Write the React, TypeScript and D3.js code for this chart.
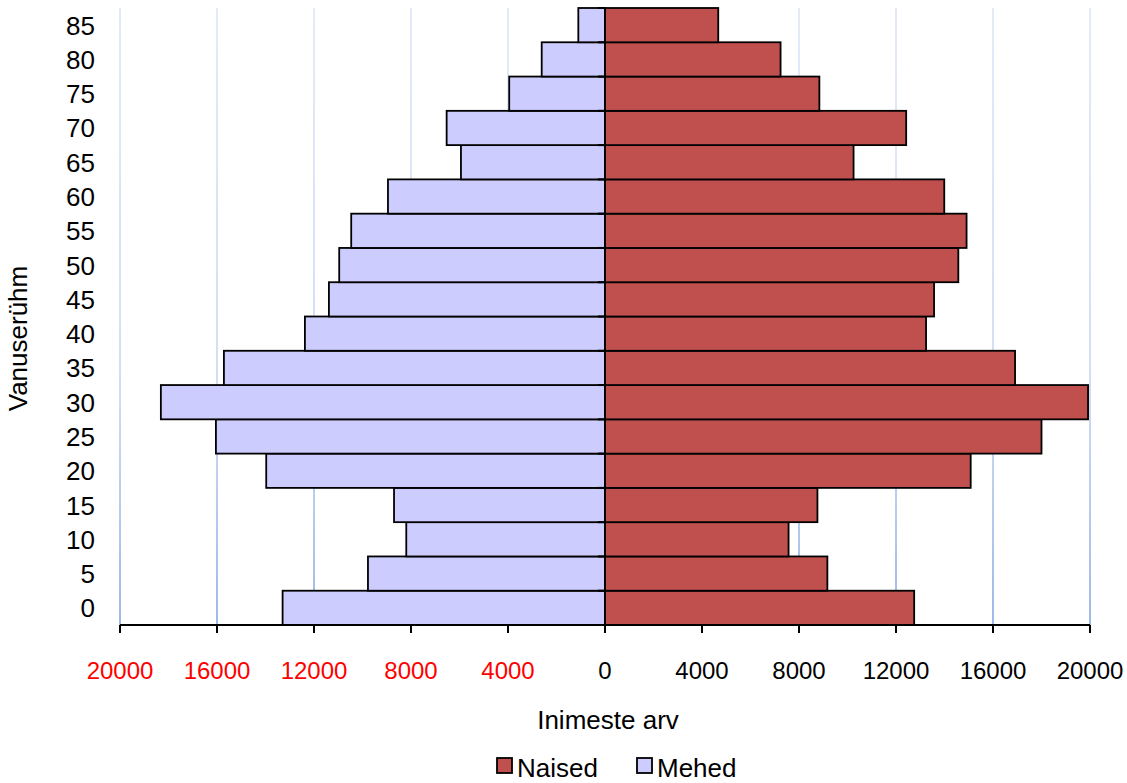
import React from "react";
import * as d3 from "d3";

const ages = [0, 5, 10, 15, 20, 25, 30, 35, 40, 45, 50, 55, 60, 65, 70, 75, 80, 85];
const naised = [12750, 9170, 7570, 8760, 15080, 18000, 19920, 16910, 13240, 13570, 14570, 14910, 13990, 10250, 12420, 8840, 7240, 4670];
const mehed = [13295, 9775, 8195, 8700, 13970, 16045, 18315, 15715, 12375, 11385, 10960, 10465, 8950, 5940, 6530, 3950, 2610, 1100];
const xTicks = [-20000, -16000, -12000, -8000, -4000, 0, 4000, 8000, 12000, 16000, 20000];
const legendItems = [
  { label: "Naised", color: "#c0504d" },
  { label: "Mehed", color: "#ccccff" },
];

const W = 1127;
const H = 783;
const top = 8;
const bottom = 625;
const font = "'Liberation Sans', Arial, sans-serif";
const fs = 26;
const fsX = 24;

export default function App() {
  const x = d3.scaleLinear().domain([-20000, 20000]).range([120, 1090]);
  const y = d3
    .scaleBand<number>()
    .domain([...ages].reverse())
    .range([top, bottom])
    .padding(0);
  const bw = y.bandwidth();
  const x0 = x(0);

  return (
    <svg
      width={W}
      height={H}
      style={{ position: "absolute", left: 0, top: 0, background: "#fff" }}
      fontFamily={font}
    >
      <defs>
        <linearGradient id="gridGrad" gradientUnits="userSpaceOnUse" x1="0" y1={top} x2="0" y2={bottom}>
          <stop offset="0" stopColor="#e4eaf8" />
          <stop offset="0.6" stopColor="#d3def4" />
          <stop offset="1" stopColor="#9db9e8" />
        </linearGradient>
      </defs>
      {/* gridlines */}
      {xTicks.map((t) => (
        <line key={"g" + t} x1={x(t)} x2={x(t)} y1={top} y2={bottom} stroke="url(#gridGrad)" strokeWidth={2} />
      ))}
      {/* male bars */}
      {ages.map((a, i) => (
        <rect
          key={"m" + a}
          x={x(-mehed[i])}
          y={y(a)!}
          width={x0 - x(-mehed[i])}
          height={bw}
          fill="#ccccff"
          stroke="#000"
          strokeWidth={1.8}
        />
      ))}
      {/* female bars */}
      {ages.map((a, i) => (
        <rect
          key={"f" + a}
          x={x0}
          y={y(a)!}
          width={x(naised[i]) - x0}
          height={bw}
          fill="#c0504d"
          stroke="#000"
          strokeWidth={1.8}
        />
      ))}
      {/* y axis at zero with ticks */}
      <line x1={x0} x2={x0} y1={top} y2={bottom} stroke="#000" strokeWidth={2} />
      {[...ages.map((a) => y(a)!), bottom].map((yy, i) => (
        <line key={"yt" + i} x1={x0 - 7} x2={x0} y1={yy} y2={yy} stroke="#000" strokeWidth={2} />
      ))}
      {/* x axis */}
      <line x1={x(-20000)} x2={x(20000)} y1={bottom} y2={bottom} stroke="#000" strokeWidth={2} />
      {xTicks.map((t) => (
        <g key={"xt" + t}>
          <line x1={x(t)} x2={x(t)} y1={bottom} y2={bottom + 8} stroke="#000" strokeWidth={2} />
          <text
            x={x(t)}
            y={679}
            textAnchor="middle"
            fontSize={fsX}
            fill={t < 0 ? "#ff0000" : "#000"}
          >
            {Math.abs(t)}
          </text>
        </g>
      ))}
      {/* y tick labels */}
      {ages.map((a) => (
        <text key={"yl" + a} x={95} y={y(a)! + bw / 2 + 9.5} textAnchor="end" fontSize={fs} fill="#000">
          {a}
        </text>
      ))}
      {/* axis titles */}
      <text x={x0 + 3} y={729} textAnchor="middle" fontSize={fs} fill="#000">
        Inimeste arv
      </text>
      <text transform={`translate(27, ${(top + bottom) / 2 + 22}) rotate(-90)`} textAnchor="middle" fontSize={fs} fill="#000">
        Vanuserühm
      </text>
      {/* legend */}
      {legendItems.map((it, i) => {
        const lx = 497 + i * 140;
        return (
          <g key={it.label}>
            <rect x={lx} y={758} width={15} height={15} fill={it.color} stroke="#000" strokeWidth={1.8} />
            <text x={lx + 20} y={777} fontSize={fs} fill="#000">
              {it.label}
            </text>
          </g>
        );
      })}
    </svg>
  );
}
